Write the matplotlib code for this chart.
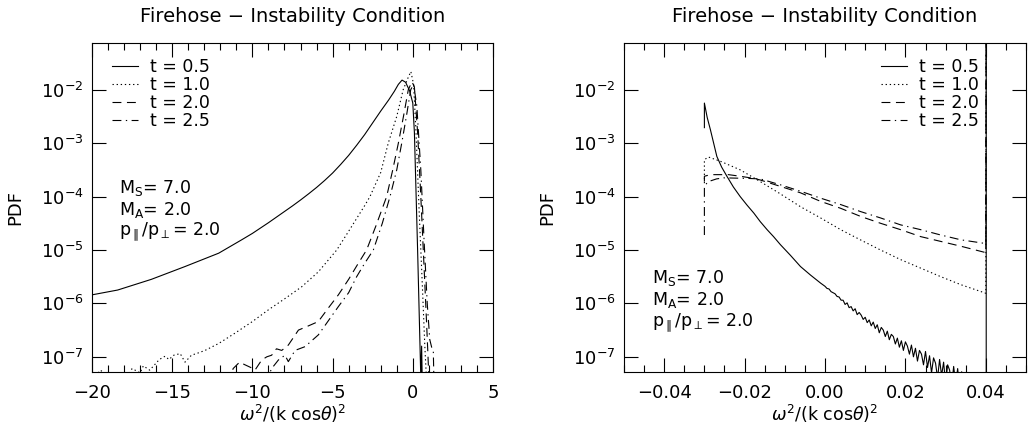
import matplotlib
matplotlib.use("Agg")
import matplotlib.pyplot as plt
import numpy as np
from matplotlib.ticker import (MultipleLocator, FixedLocator, NullLocator,
                               FuncFormatter, LogFormatterSciNotation)

# ---- left panel: wide range, values are log10(PDF) ----
left_t05_x = [-20, -18.4, -16.3, -14.2, -12.1, -10.67, -10, -9, -8, -7.5, -7, -6.5,
              -6, -5.5, -5, -4.5, -4, -3.5, -3, -2.5, -2, -1.5, -1.15, -0.9, -0.67,
              -0.45, -0.2, 0.0, 0.1, 0.2, 0.3, 0.4, 0.5, 0.55, 0.6]
left_t05_log = [-5.84, -5.75, -5.55, -5.31, -5.06, -4.81, -4.69, -4.49, -4.28, -4.175,
                -4.065, -3.95, -3.83, -3.70, -3.56, -3.40, -3.23, -3.04, -2.84, -2.62,
                -2.40, -2.19, -2.03, -1.90, -1.82, -1.86, -2.02, -2.25, -2.8, -3.9,
                -5.0, -6.2, -7.4, -6.8, -7.6]

left_t10_x = [-20, -19.5, -19.2, -19, -18, -17.5, -17, -16.8, -16.4, -16.1, -15.8,
              -15.45, -15.2, -14.9, -14.5, -14.2, -13.8, -13.4, -12.95, -12.1, -11.1,
              -10, -9, -7.97, -6.93, -5.89, -4.74, -4, -3, -2.67, -2, -1.53, -1,
              -0.6, -0.3, -0.12, 0.05, 0.2, 0.4, 0.6, 0.75, 0.85]
left_t10_log = [-7.5, -7.25, -7.3, -7.45, -7.5, -7.22, -7.3, -7.17, -7.25, -7.15, -7.05,
                -6.99, -7.05, -6.97, -6.94, -7.10, -6.97, -6.93, -6.88, -6.75, -6.56,
                -6.34, -6.12, -5.91, -5.69, -5.41, -5.0, -4.65, -4.17, -4.0, -3.55,
                -3.0, -2.5, -2.0, -1.78, -1.66, -1.9, -2.8, -4.3, -5.7, -6.8, -7.4]

left_t20_x = [-11.5, -11.2, -10.8, -10.46, -10.1, -9.84, -9.42, -9.1, -8.8, -8.5,
              -8.17, -7.76, -7.4, -7.13, -6.5, -5.89, -5.3, -4.64, -4, -3.5, -2.88,
              -2.3, -1.63, -1.25, -0.9, -0.55, -0.28, -0.05, 0.1, 0.3, 0.5, 0.7,
              0.85, 0.95, 1.0]
left_t20_log = [-7.5, -7.22, -7.1, -7.15, -7.2, -7.25, -7.06, -7.0, -6.97, -6.85,
                -6.88, -6.78, -6.62, -6.5, -6.42, -6.34, -6.1, -5.84, -5.55, -5.3,
                -5.0, -4.55, -4.0, -3.5, -3.0, -2.45, -2.0, -1.85, -1.95, -2.8, -4.0,
                -5.3, -6.3, -7.0, -7.4]

left_t25_x = [-9.2, -8.8, -8.38, -7.97, -7.76, -7.34, -6.72, -5.89, -4.64, -4, -3.5,
              -3, -2.46, -1.9, -1.42, -1.0, -0.69, -0.4, -0.13, 0.05, 0.25, 0.5, 0.7,
              0.9, 1.06, 1.2, 1.28, 1.32]
left_t25_log = [-7.5, -7.22, -7.06, -6.97, -7.09, -6.88, -6.81, -6.59, -6.06, -5.8,
                -5.5, -5.25, -5.0, -4.5, -4.0, -3.5, -3.0, -2.5, -2.0, -1.9, -2.3,
                -3.5, -4.8, -6.0, -6.68, -6.85, -6.9, -7.5]

# ---- right panel: zoom around zero ----
right_t05_x = [-0.0300, -0.0300, -0.0293, -0.0285, -0.0277, -0.0269, -0.0257, -0.0244,
               -0.0228, -0.0211, -0.0194, -0.0177, -0.0161, -0.0144, -0.0128, -0.0111,
               -0.0086, -0.0061, -0.0036, -0.0011,
               0.0000, 0.0005, 0.0010, 0.0015, 0.0020, 0.0025, 0.0030, 0.0035, 0.0040,
               0.0045, 0.0050, 0.0055, 0.0060, 0.0065, 0.0070, 0.0075, 0.0080, 0.0085,
               0.0090, 0.0095, 0.0100, 0.0105, 0.0110, 0.0115, 0.0120, 0.0125, 0.0130,
               0.0135, 0.0140, 0.0145, 0.0150, 0.0155, 0.0160, 0.0165, 0.0170, 0.0175,
               0.0180, 0.0185, 0.0190, 0.0195, 0.0200, 0.0205, 0.0210, 0.0215, 0.0220,
               0.0225, 0.0230, 0.0235, 0.0240, 0.0245, 0.0250, 0.0255, 0.0260, 0.0265,
               0.0270, 0.0275, 0.0280, 0.0285, 0.0290, 0.0295, 0.0300, 0.0305, 0.0310,
               0.0315, 0.0320, 0.0325, 0.0330, 0.0335, 0.0340, 0.0345, 0.0350, 0.0355,
               0.0401, 0.0401]
right_t05_log = [-2.71, -2.25, -2.52, -2.75, -3.0, -3.25, -3.45, -3.62,
                 -3.82, -4.0, -4.16, -4.31, -4.47, -4.62, -4.75, -4.90,
                 -5.10, -5.31, -5.47, -5.62,
                 -5.68, -5.72, -5.73, -5.78, -5.80, -5.82, -5.87, -5.88, -5.94,
                 -5.94, -6.02, -5.99, -6.08, -6.06, -6.14, -6.10, -6.21, -6.17,
                 -6.22, -6.30, -6.26, -6.36, -6.31, -6.42, -6.35, -6.47, -6.40,
                 -6.55, -6.45, -6.50, -6.62, -6.52, -6.68, -6.58, -6.62, -6.76,
                 -6.65, -6.82, -6.70, -6.88, -6.72, -6.80, -6.95, -6.78, -7.00,
                 -6.84, -7.08, -6.88, -6.95, -7.15, -6.90, -7.20, -6.98, -7.30,
                 -7.02, -7.12, -7.40, -7.05, -7.35, -7.10, -7.50, -7.15, -7.25,
                 -7.55, -7.18, -7.50, -7.22, -7.60, -7.28, -7.65, -7.35, -7.80,
                 -7.90, 0.5]

right_t10_x = [-0.0300, -0.0300, -0.0290, -0.0260, -0.0211, -0.0161, -0.0111, -0.0061,
               -0.0011, 0.0039, 0.0088, 0.0138, 0.0188, 0.0238, 0.0288, 0.0338, 0.0400,
               0.0401]
right_t10_log = [-3.75, -3.31, -3.26, -3.34, -3.50, -3.72, -3.95, -4.19,
                 -4.40, -4.62, -4.81, -5.0, -5.18, -5.34, -5.50, -5.65, -5.81,
                 0.5]

right_t20_x = [-0.0300, -0.0300, -0.0290, -0.0277, -0.0240, -0.0211, -0.0177, -0.0161,
               -0.0111, -0.0061, -0.0011, 0.0039, 0.0088, 0.0138, 0.0188, 0.0238,
               0.0288, 0.0338, 0.0400, 0.0401]
right_t20_log = [-3.72, -3.62, -3.60, -3.59, -3.59, -3.62, -3.66, -3.69,
                 -3.81, -3.93, -4.09, -4.22, -4.37, -4.50, -4.62, -4.75,
                 -4.84, -4.93, -5.05, 0.5]

right_t25_x = [-0.0300, -0.0300, -0.0290, -0.0270, -0.0252, -0.0194, -0.0161, -0.0111,
               -0.0061, -0.0011, 0.0039, 0.0088, 0.0138, 0.0188, 0.0238, 0.0288,
               0.0338, 0.0400, 0.0401]
right_t25_log = [-4.72, -3.80, -3.72, -3.67, -3.65, -3.66, -3.67, -3.78,
                 -3.90, -4.03, -4.15, -4.28, -4.40, -4.53, -4.62, -4.72,
                 -4.81, -4.88, 0.5]

labels = ["t = 0.5", "t = 1.0", "t = 2.0", "t = 2.5"]
params = ["M$_{\\rm S}$= 7.0", "M$_{\\rm A}$= 2.0",
          "p$_{\\parallel}$/p$_{\\perp}$= 2.0"]
title = "Firehose \u2212 Instability Condition"
y_decades = [1e-7, 1e-6, 1e-5, 1e-4, 1e-3, 1e-2]

plt.rcParams["font.family"] = "DejaVu Sans"
plt.rcParams["mathtext.fontset"] = "dejavusans"

styles = [
    dict(linestyle="-"),
    dict(linestyle=(0, (1.2, 2.5))),
    dict(linestyle=(0, (8, 5))),
    dict(linestyle=(0, (8, 4, 1.2, 4))),
]


def minus_fmt(v, pos):
    if abs(v) < 1e-12:
        v = 0.0
    return ("%.2f" % v).replace("-", "\u2212")


def style_axes(ax, xlim, major, minor):
    ax.set_yscale("log")
    ax.set_xlim(*xlim)
    ax.set_ylim(5.2e-8, 0.075)
    ax.xaxis.set_major_locator(MultipleLocator(major))
    ax.xaxis.set_minor_locator(MultipleLocator(minor))
    ax.yaxis.set_major_locator(FixedLocator(y_decades))
    ax.yaxis.set_major_formatter(LogFormatterSciNotation())
    ax.yaxis.set_minor_locator(NullLocator())
    ax.tick_params(which="both", direction="in", top=True, right=True, width=0.8)
    ax.tick_params(which="major", length=10)
    ax.tick_params(which="minor", length=5)
    ax.tick_params(axis="x", pad=9, labelsize=13)
    ax.tick_params(axis="y", pad=6, labelsize=13)
    for s in ax.spines.values():
        s.set_linewidth(0.8)
    ax.set_title(title, fontsize=14, pad=15)
    ax.set_xlabel("$\\omega^2$/(k cos$\\theta$)$^2$", fontsize=12.5, labelpad=0)
    ax.set_ylabel("PDF", fontsize=13, labelpad=12)


fig = plt.figure(figsize=(10.29, 4.34), dpi=100)
ax1 = fig.add_axes([0.0894, 0.1429, 0.3897, 0.7581])
ax2 = fig.add_axes([0.6064, 0.1429, 0.3907, 0.7581])

left = [(left_t05_x, left_t05_log), (left_t10_x, left_t10_log),
        (left_t20_x, left_t20_log), (left_t25_x, left_t25_log)]
right = [(right_t05_x, right_t05_log), (right_t10_x, right_t10_log),
         (right_t20_x, right_t20_log), (right_t25_x, right_t25_log)]

for ax, curves in [(ax1, left), (ax2, right)]:
    for (x, lg), lab, st in zip(curves, labels, styles):
        ax.plot(x, 10.0 ** np.array(lg), color="black", lw=0.8, label=lab, **st)

style_axes(ax1, (-20, 5), 5, 1)
style_axes(ax2, (-0.05, 0.05), 0.02, 0.005)
ax2.xaxis.set_major_formatter(FuncFormatter(minus_fmt))

leg_kw = dict(frameon=False, fontsize=12.5, handlelength=1.5, handletextpad=0.7,
              labelspacing=0.0, borderaxespad=0, borderpad=0)
ax1.legend(loc="upper left", bbox_to_anchor=(0.05, 0.955), **leg_kw)
ax2.legend(loc="upper left", bbox_to_anchor=(0.64, 0.955), **leg_kw)

for ax, x0, y0 in [(ax1, 0.067, 0.56), (ax2, 0.07, 0.285)]:
    for i, p in enumerate(params):
        ax.text(x0, y0 - i * 0.067, p, transform=ax.transAxes, fontsize=12.5,
                va="center", ha="left")

fig.savefig("out.png", dpi=100)
